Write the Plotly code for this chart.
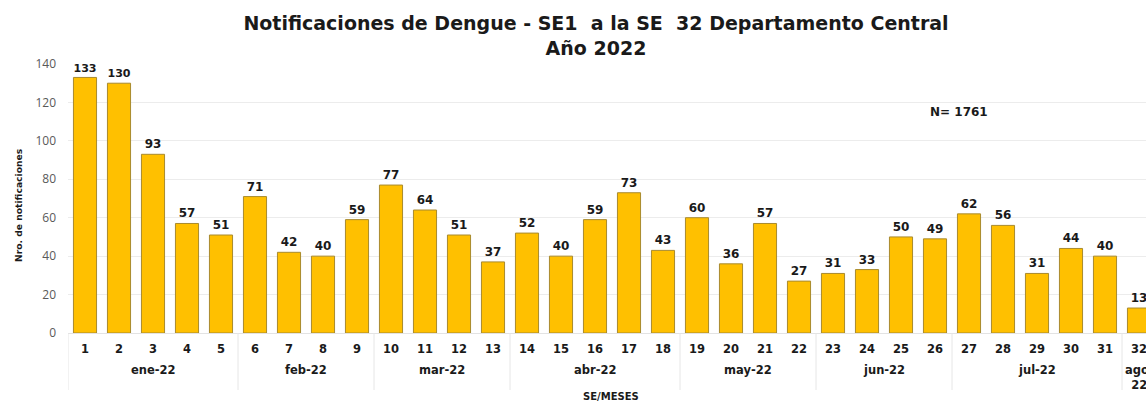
import plotly.graph_objects as go

weeks = [str(i) for i in range(1, 33)]
month_names = ["ene-22", "feb-22", "mar-22", "abr-22", "may-22", "jun-22", "jul-22", "ago-<br>22"]
month_weeks = [5, 4, 4, 5, 4, 4, 5, 1]
values = [133, 130, 93, 57, 51, 71, 42, 40, 59, 77, 64, 51, 37, 52, 40, 59, 73, 43,
          60, 36, 57, 27, 31, 33, 50, 49, 62, 56, 31, 44, 40, 13]
yticks = [0, 20, 40, 60, 80, 100, 120, 140]

W, H = 1160, 401
L, T, PW, PH = 68, 64, 1088, 269


def px(x):
    return (x - L) / PW


def py(y):
    return (T + PH - y) / PH


fig = go.Figure(go.Bar(
    x=weeks, y=values,
    marker=dict(color="#FFC000", line=dict(color="#A88A2E", width=1)),
    text=[str(v) for v in values], textposition="outside",
    textfont=dict(family="DejaVu Sans", size=12, color="#1a1a1a", weight="bold"),
    cliponaxis=False, width=0.68,
))

annotations = [
    dict(text="Nro. de notificaciones", x=px(18), y=py(205), xref="paper", yref="paper",
         textangle=-90, showarrow=False, xanchor="center", yanchor="middle",
         font=dict(family="DejaVu Sans", size=9.2, color="#1a1a1a", weight="bold")),
    dict(text="SE/MESES", x=px(611), y=py(396), xref="paper", yref="paper",
         showarrow=False, xanchor="center", yanchor="middle",
         font=dict(family="DejaVu Sans", size=10, color="#1a1a1a", weight="bold")),
    dict(text="N= 1761", x=px(959), y=py(112), xref="paper", yref="paper",
         showarrow=False, xanchor="center", yanchor="middle",
         font=dict(family="DejaVu Sans", size=12, color="#1a1a1a", weight="bold")),
]
shapes = []
start = 0
for name, n in zip(month_names, month_weeks):
    center = start + (n - 1) / 2
    annotations.append(dict(
        text=name, x=center, xref="x", y=py(361), yref="paper", yanchor="top",
        showarrow=False, xanchor="center",
        font=dict(family="DejaVu Sans", size=11.5, color="#1a1a1a", weight="bold")))
    shapes.append(dict(type="line", xref="x", yref="paper", x0=start - 0.5, x1=start - 0.5,
                       y0=0, y1=py(390), line=dict(color="#e6e6e6", width=1)))
    start += n

fig.update_layout(
    width=W, height=H,
    margin=dict(l=L, r=W - L - PW, t=T, b=H - T - PH, autoexpand=False),
    plot_bgcolor="white", paper_bgcolor="white",
    showlegend=False,
    title=dict(
        text="Notificaciones de Dengue - SE1\u00a0\u00a0a la SE\u00a0\u00a032 Departamento Central<br>Año 2022",
        x=596 / W, xanchor="center", y=1 - 30 / H, yanchor="middle",
        font=dict(family="DejaVu Sans", size=19, color="#1a1a1a", weight="bold"),
    ),
    xaxis=dict(
        type="category", range=[-0.5, 31.5], showgrid=False, showline=True, linecolor="#e3e3e3",
        linewidth=1, ticks="", ticklabelstandoff=5,
        tickfont=dict(family="DejaVu Sans", size=11.5, color="#1a1a1a", weight="bold"),
        automargin=False,
    ),
    yaxis=dict(
        range=[0, 140], tickvals=yticks, showgrid=True, gridcolor="#ececec",
        zeroline=False, showline=False, ticks="", ticklabelstandoff=11,
        tickfont=dict(family="Open Sans", size=12, color="#595959"),
        automargin=False,
    ),
    annotations=annotations,
    shapes=shapes,
)

fig.write_html("out.html", config={"displayModeBar": False},
               post_script="document.body.style.margin='0';document.body.style.overflow='hidden';document.documentElement.style.overflow='hidden';")
